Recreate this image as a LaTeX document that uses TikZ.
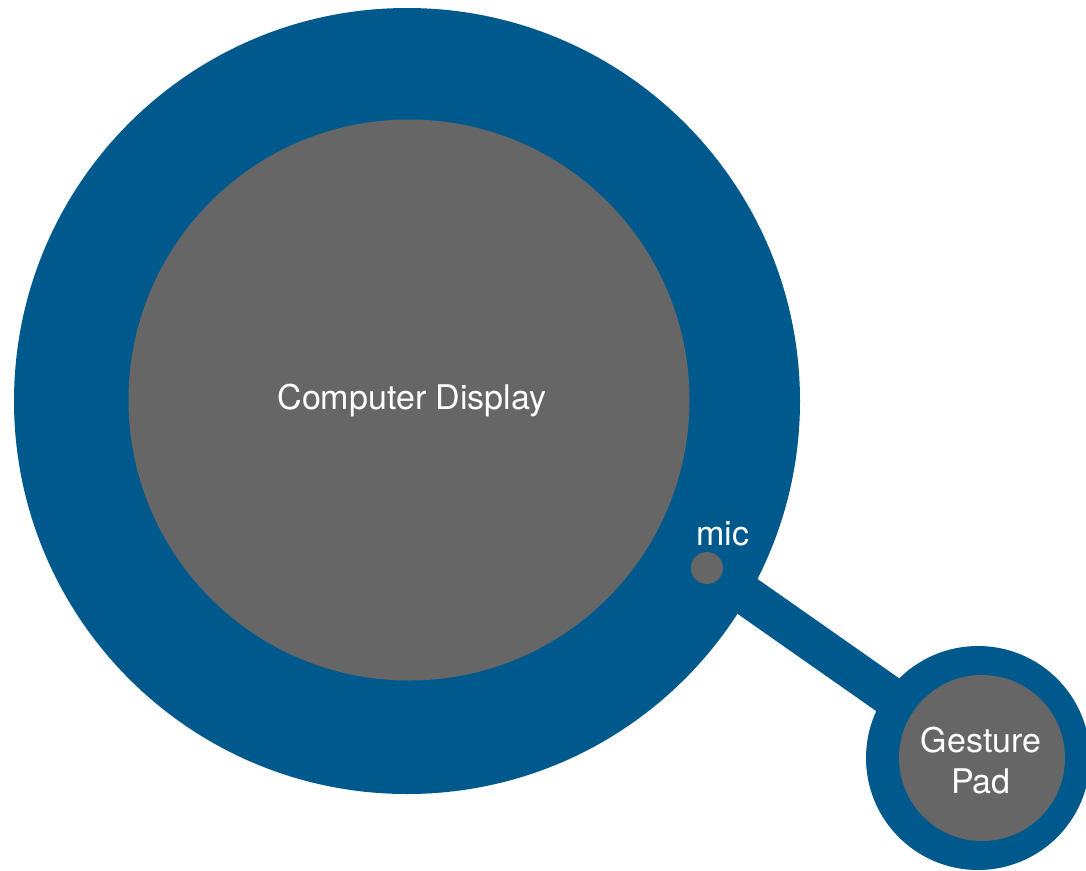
\documentclass[tikz,border=0pt]{standalone}
\usepackage{fontspec}
\setmainfont{TeX Gyre Heros}
\usetikzlibrary{backgrounds}
\definecolor{ringblue}{RGB}{0,89,140}
\definecolor{padgray}{RGB}{102,102,102}
\tikzset{
  ring/.style={circle, fill=ringblue, draw=none, inner sep=0pt},
  face/.style={circle, fill=padgray, draw=none, inner sep=0pt},
  label/.style={text=white, font=\fontsize{34}{41}\selectfont, inner sep=0pt},
  link/.style={draw=ringblue, line width=40pt}
}
\begin{document}
\begin{tikzpicture}[x=1pt, y=-1pt]
  \useasboundingbox (0,0) rectangle (1086,870);
  % main display with its surrounding ring
  \node[ring, minimum size=786pt] (displayring) at (407,401) {};
  \node[face, minimum size=561pt] (display) at (409,400) {};
  \node[label, anchor=base] (displaylabel) at (412,409) {Computer Display};
  % microphone
  \node[face, minimum size=32pt] (mic) at (707,568) {};
  \node[label, anchor=base] (miclabel) at (723,545) {mic};
  % gesture pad
  \node[ring, minimum size=224pt] (padring) at (978,758) {};
  \node[face, minimum size=166pt] (pad) at (982,758) {};
  \node[label, align=center, anchor=base] (padlabel) at (981,793) {Gesture\\Pad};
  % cable from the microphone to the pad
  \begin{pgfonlayer}{background}
    \draw[link] (mic.center) -- (padring.center);
  \end{pgfonlayer}
\end{tikzpicture}
\end{document}
